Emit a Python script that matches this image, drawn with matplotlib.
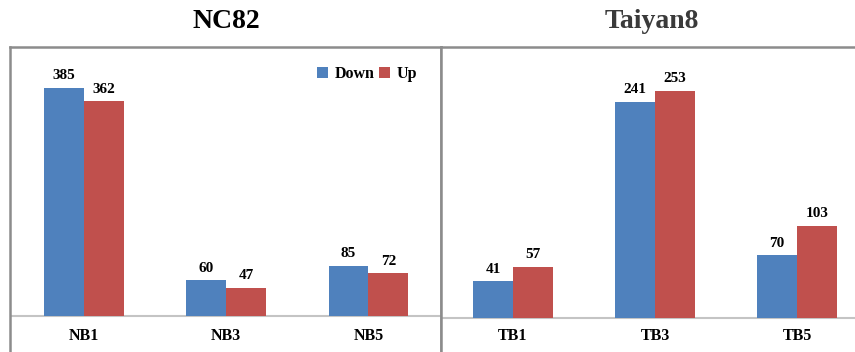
import matplotlib.pyplot as plt
import matplotlib.transforms as mtransforms
import numpy as np

plt.rcParams['font.family'] = ['Liberation Serif', 'DejaVu Serif']
plt.rcParams['font.weight'] = 'bold'

nc82_labels = ['NB1', 'NB3', 'NB5']
nc82_down = [385, 60, 85]
nc82_up = [362, 47, 72]

taiyan8_labels = ['TB1', 'TB3', 'TB5']
taiyan8_down = [41, 241, 70]
taiyan8_up = [57, 253, 103]

BLUE = '#4F81BD'
RED = '#C0504D'
FRAME = '#8C8C8C'

W, H = 855, 352
fig = plt.figure(figsize=(W / 100, H / 100), dpi=100)


def draw_panel(rect, labels, down, up, ylim, xlim, spines_on):
    ax = fig.add_axes(rect)
    x = np.arange(len(labels))
    w = 0.28
    b1 = ax.bar(x - w / 2, down, w, color=BLUE, label='Down', zorder=2)
    b2 = ax.bar(x + w / 2, up, w, color=RED, label='Up', zorder=2)
    for bars in (b1, b2):
        for rect_, v in zip(bars, bars.datavalues):
            ax.annotate(f'{v:g}', (rect_.get_x() + rect_.get_width() / 2, v),
                        xytext=(0, 4), textcoords='offset points',
                        ha='center', va='bottom', fontsize=11, fontweight='bold')
    ax.axhline(0, color='#C4C4C4', lw=1.5, zorder=1)
    trans = mtransforms.blended_transform_factory(ax.transData, ax.transAxes)
    for xi, lab in zip(x, labels):
        ax.text(xi, 16 / 305, lab, transform=trans, ha='center', va='center',
                fontsize=11.5, fontweight='bold')
    ax.set_xlim(*xlim)
    ax.set_ylim(*ylim)
    ax.set_xticks([])
    ax.set_yticks([])
    for side, sp in ax.spines.items():
        sp.set_visible(side in spines_on)
        sp.set_color(FRAME)
        sp.set_linewidth(1.8)
    return ax


ax1 = draw_panel([10 / W, 0, 431 / W, 305 / H], nc82_labels, nc82_down, nc82_up,
                 (-61, 454), (-0.52, 2.51), ('left', 'top', 'right'))
ax2 = draw_panel([441 / W, 0, 414 / W, 305 / H], taiyan8_labels, taiyan8_down, taiyan8_up,
                 (-38, 302), (-0.507, 2.408), ('left', 'top'))

ax1.legend(loc='upper right', bbox_to_anchor=(0.978, 0.985), ncol=2, frameon=False,
           handlelength=0.7, handleheight=0.7, handletextpad=0.4, columnspacing=0.3,
           prop={'weight': 'bold', 'size': 11.5})

fig.text(226 / W, 1 - 22 / H, 'NC82', ha='center', va='center',
         fontsize=20, fontweight='bold', color='black')
fig.text(652 / W, 1 - 22 / H, 'Taiyan8', ha='center', va='center',
         fontsize=20, fontweight='bold', color='#3A3A3A')

fig.savefig('out.png', dpi=100)
